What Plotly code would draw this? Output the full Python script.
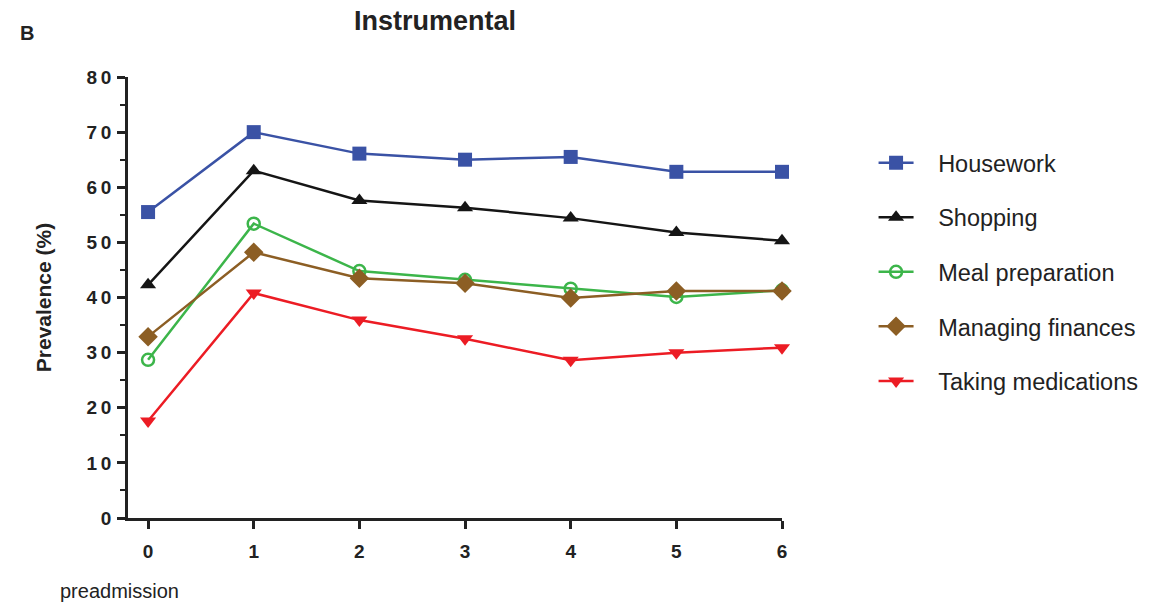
import plotly.graph_objects as go

x_vals = [0, 1, 2, 3, 4, 5, 6]
housework = [55.5, 70.0, 66.1, 65.0, 65.5, 62.8, 62.8]
shopping = [42.3, 63.0, 57.6, 56.3, 54.4, 51.8, 50.3]
meal_prep = [28.7, 53.4, 44.8, 43.2, 41.6, 40.1, 41.3]
finances = [32.9, 48.2, 43.5, 42.6, 39.9, 41.2, 41.2]
medications = [17.6, 40.8, 35.9, 32.5, 28.6, 30.0, 30.9]
y_ticks = list(range(0, 81, 10))

series = [
    ("Housework", housework, "#3a52a5", "square", 14),
    ("Shopping", shopping, "#151515", "triangle-up", 14),
    ("Meal preparation", meal_prep, "#3cb54a", "circle-open", 12),
    ("Managing finances", finances, "#8c5e24", "diamond", 15),
    ("Taking medications", medications, "#ec1c24", "triangle-down", 14),
]

fig = go.Figure()
for name, vals, color, sym, size in series:
    fig.add_trace(go.Scatter(
        x=x_vals, y=vals, name="\u00a0\u00a0\u00a0" + name, mode="lines+markers",
        line=dict(color=color, width=2.5),
        marker=dict(symbol=sym, size=size, color=color,
                    line=dict(width=2.5 if sym == "circle-open" else 0, color=color)),
        legendgroup=name, cliponaxis=False,
    ))

fig.update_layout(
    width=1166, height=602,
    margin=dict(l=128, r=384, t=77, b=84),
    paper_bgcolor="white", plot_bgcolor="white",
    font=dict(family="Arial, Liberation Sans, sans-serif", color="#222"),
    showlegend=True,
    legend=dict(x=1.14, y=0.855, xanchor="left", yanchor="top",
                font=dict(size=23.5, color="#222"), tracegroupgap=21,
                itemwidth=35,
                bgcolor="rgba(0,0,0,0)"),
    xaxis=dict(range=[-0.19, 6], tickvals=x_vals, ticktext=[str(v) for v in x_vals],
               showline=True, linecolor="#222", linewidth=2.5,
               ticks="outside", ticklen=8, tickwidth=2.5, tickcolor="#222",
               ticklabelstandoff=6,
               tickfont=dict(size=19, weight="bold", color="#222"),
               showgrid=False, zeroline=False),
    yaxis=dict(range=[0, 80], tickvals=y_ticks, ticktext=["\u2009".join(str(v)) for v in y_ticks],
               showline=True, linecolor="#222", linewidth=2.5,
               ticks="outside", ticklen=8, tickwidth=2.5, tickcolor="#222",
               ticklabelstandoff=2,
               tickfont=dict(size=19, weight="bold", color="#222"),
               minor=dict(tickvals=list(range(5, 80, 10)), ticks="outside", ticklen=5,
                          tickwidth=2, tickcolor="#222"),
               showgrid=False, zeroline=False,
               title=dict(text="<b>Prevalence (%)</b>", font=dict(size=21, color="#222"), standoff=30)),
)

pw, ph = 1166 - 128 - 384, 602 - 77 - 84
def px(xp, yp):
    return (xp - 128) / pw, (518 - yp) / ph

ax, ay = px(435, 21)
fig.add_annotation(text="<b>Instrumental</b>", x=ax, y=ay, xref="paper", yref="paper",
                   xanchor="center", yanchor="middle", showarrow=False,
                   font=dict(size=27, color="#222"))
bx, by = px(27, 33)
fig.add_annotation(text="<b>B</b>", x=bx, y=by, xref="paper", yref="paper",
                   xanchor="center", yanchor="middle", showarrow=False,
                   font=dict(size=20, color="#222"))
qx, qy = px(58, 591)
fig.add_annotation(text="preadmission", x=qx, y=qy, xref="paper", yref="paper",
                   xanchor="left", yanchor="middle", showarrow=False,
                   font=dict(size=20, color="#222"))

fig.write_html("out.html")
